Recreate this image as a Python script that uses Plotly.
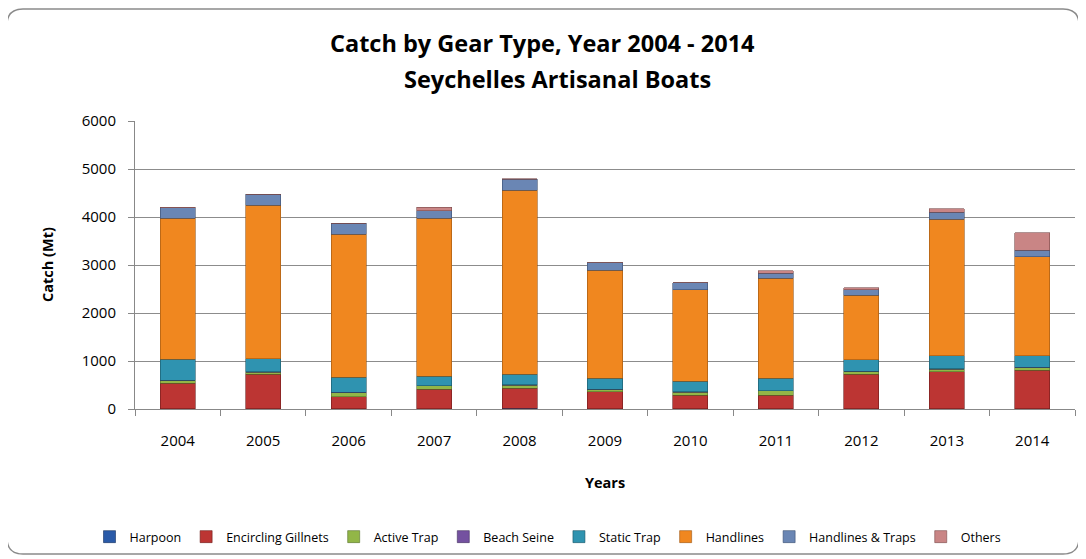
import plotly.graph_objects as go

years = ["2004", "2005", "2006", "2007", "2008", "2009", "2010", "2011", "2012", "2013", "2014"]
harpoon = [10, 10, 10, 10, 20, 10, 10, 10, 10, 10, 10]
encircling_gillnets = [525, 710, 245, 400, 410, 350, 280, 280, 715, 765, 800]
active_trap = [60, 50, 85, 70, 70, 50, 60, 90, 60, 55, 50]
beach_seine = [5, 5, 5, 5, 5, 5, 5, 5, 5, 5, 5]
static_trap = [435, 273, 320, 195, 215, 230, 220, 260, 231, 275, 245]
handlines = [2935, 3202, 2975, 3290, 3840, 2250, 1905, 2075, 1354, 2848, 2060]
handlines_traps = [220, 220, 230, 160, 230, 150, 150, 105, 105, 140, 140]
others = [10, 5, 5, 75, 5, 5, 5, 55, 50, 70, 360]

series = [
    ("Harpoon", harpoon, "#2A5AA8", "#17335f"),
    ("Encircling Gillnets", encircling_gillnets, "#BC3533", "#6e1b1a"),
    ("Active Trap", active_trap, "#92B647", "#55702a"),
    ("Beach Seine", beach_seine, "#7451A0", "#43305e"),
    ("Static Trap", static_trap, "#2F93B0", "#1a5566"),
    ("Handlines", handlines, "#F0871F", "#9a5512"),
    ("Handlines & Traps", handlines_traps, "#6A86B4", "#3a4f70"),
    ("Others", others, "#C98585", "#7a4a4a"),
]

FONT = "Open Sans"
OFF = 8  # page body margin
W, H = 1086 - OFF, 559 - OFF
# plot area in reference (window) pixels
PL, PR, PT, PB = 135, 1075, 121, 409
L, T = PL - OFF, PT - OFF
R = W - (PR - OFF)
B = H - (PB - OFF)

fig = go.Figure()
for name, vals, col, edge in series:
    fig.add_trace(go.Bar(
        x=years, y=vals, name=name,
        marker=dict(color=col, line=dict(color=edge, width=0.6)),
    ))

def px(x):
    return (x - PL) / (PR - PL)

def py(y):
    return (PB - y) / (PB - PT)

# rounded outer frame (reference pixel coords)
x0, y0, x1, y1, r = 7, 9, 1079, 554, 16
path = (f"M {px(x0 + r)} {py(y0)} L {px(x1 - r)} {py(y0)} "
        f"Q {px(x1)} {py(y0)} {px(x1)} {py(y0 + r)} L {px(x1)} {py(y1 - r)} "
        f"Q {px(x1)} {py(y1)} {px(x1 - r)} {py(y1)} L {px(x0 + r)} {py(y1)} "
        f"Q {px(x0)} {py(y1)} {px(x0)} {py(y1 - r)} L {px(x0)} {py(y0 + r)} "
        f"Q {px(x0)} {py(y0)} {px(x0 + r)} {py(y0)} Z")

fig.update_layout(
    width=W, height=H,
    margin=dict(l=L, r=R, t=T, b=B, autoexpand=False),
    paper_bgcolor="white",
    plot_bgcolor="white",
    barmode="stack",
    bargap=0.59,
    font=dict(family=FONT, size=14, color="black"),
    showlegend=True,
    legend=dict(orientation="h", x=px(548), xanchor="center", y=py(537), yanchor="middle",
                font=dict(size=12.5, family=FONT), traceorder="normal",
                itemwidth=30, bgcolor="rgba(0,0,0,0)"),
    shapes=[dict(type="path", path=path, xref="paper", yref="paper",
                 line=dict(color="#8a8a8a", width=1.5), fillcolor="white", layer="below")],
    annotations=[
        dict(text="<b>Catch by Gear Type, Year 2004 - 2014</b>", x=px(542), y=py(43),
             xref="paper", yref="paper", showarrow=False, font=dict(size=23.5, family=FONT),
             xanchor="center", yanchor="middle"),
        dict(text="<b>Seychelles Artisanal Boats</b>", x=px(557), y=py(79),
             xref="paper", yref="paper", showarrow=False, font=dict(size=23.5, family=FONT),
             xanchor="center", yanchor="middle"),
        dict(text="<b>Years</b>", x=px(605), y=py(482),
             xref="paper", yref="paper", showarrow=False, font=dict(size=14.5, family=FONT),
             xanchor="center", yanchor="middle"),
        dict(text="<b>Catch (Mt)</b>", x=px(47), y=py(265), textangle=-90,
             xref="paper", yref="paper", showarrow=False, font=dict(size=14.5, family=FONT),
             xanchor="center", yanchor="middle"),
    ],
)
fig.update_xaxes(
    type="category", showline=True, linecolor="#888888", linewidth=1,
    ticks="outside", tickson="boundaries", ticklen=6, tickcolor="#888888",
    showgrid=False, tickfont=dict(size=15, family=FONT), ticklabelstandoff=18,
)
fig.update_yaxes(
    range=[0, 6000], dtick=1000, showline=True, linecolor="#888888", linewidth=1,
    ticks="outside", ticklen=6, tickcolor="#888888",
    showgrid=True, gridcolor="#8c8c8c", gridwidth=1, zeroline=False,
    tickfont=dict(size=15, family=FONT), ticklabelstandoff=9,
)

fig.write_html("out.html")
